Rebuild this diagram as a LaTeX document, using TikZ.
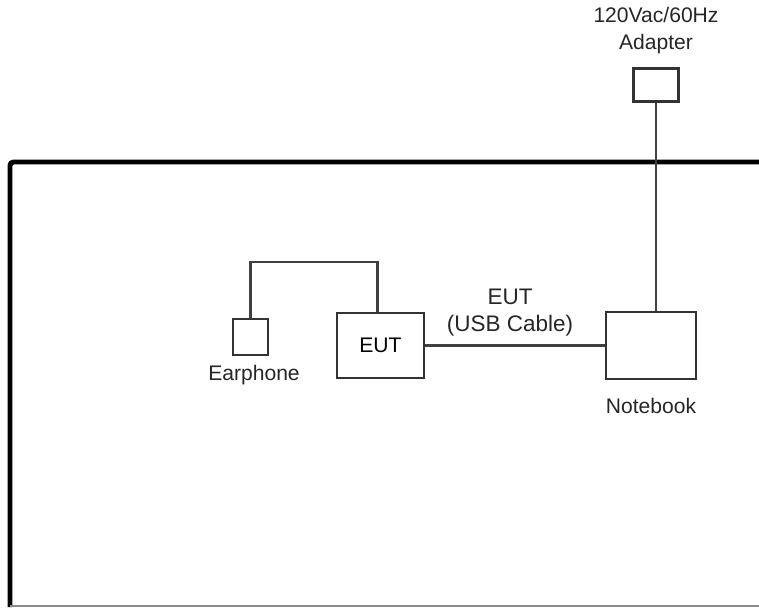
\documentclass[tikz,border=0pt]{standalone}
\usepackage{fontspec}
\setmainfont{Liberation Sans}
\usetikzlibrary{positioning,calc}

\begin{document}
\begin{tikzpicture}[x=0.02cm,y=-0.02cm,font=\fontsize{12}{15.3}\selectfont,
  unit/.style={draw=black!80,line width=1.2pt,inner sep=0pt},
  cable/.style={draw=black!75,line width=1.2pt},
  lab/.style={text=black!85,align=center,inner sep=0pt}]
\useasboundingbox (0,0) rectangle (759,608);
% test room outline
\draw[line width=2.8pt,rounded corners=2pt] (762,162) -- (10,162) -- (10,607);
\draw[black!45,line width=0.8pt] (10,606) -- (759,606);
% equipment
\node[unit,minimum width=0.9cm,minimum height=0.66cm] (adapter) at (656,85) {};
\node[unit,minimum width=1.8cm,minimum height=1.34cm] (notebook) at (651,345.5) {};
\node[unit,minimum width=1.74cm,minimum height=1.3cm] (eut) at (380.5,345.5) {EUT};
\node[unit,minimum width=0.7cm,minimum height=0.72cm] (phone) at (250.5,337) {};
% labels
\node[lab,above=0.26cm of adapter] (adapterlab) {120Vac/60Hz\\Adapter};
\node[lab,below=0.36cm of notebook] (notebooklab) {Notebook};
\node[lab,below=0.18cm of phone,xshift=0.07cm] (phonelab) {Earphone};
% cables
\draw[cable] (phone.north) -- ++(0,-56) coordinate (bend) -| ($(eut.north)+(-3,0)$);
\draw[cable] (eut.east) -- (notebook.west) node[lab,midway,above=0.16cm,xshift=-0.1cm,font=\fontsize{12.8}{15.3}\selectfont] (usblab) {EUT\\(USB Cable)};
\draw[cable] (adapter.south) -- (adapter.south |- notebook.north);
\end{tikzpicture}
\end{document}
